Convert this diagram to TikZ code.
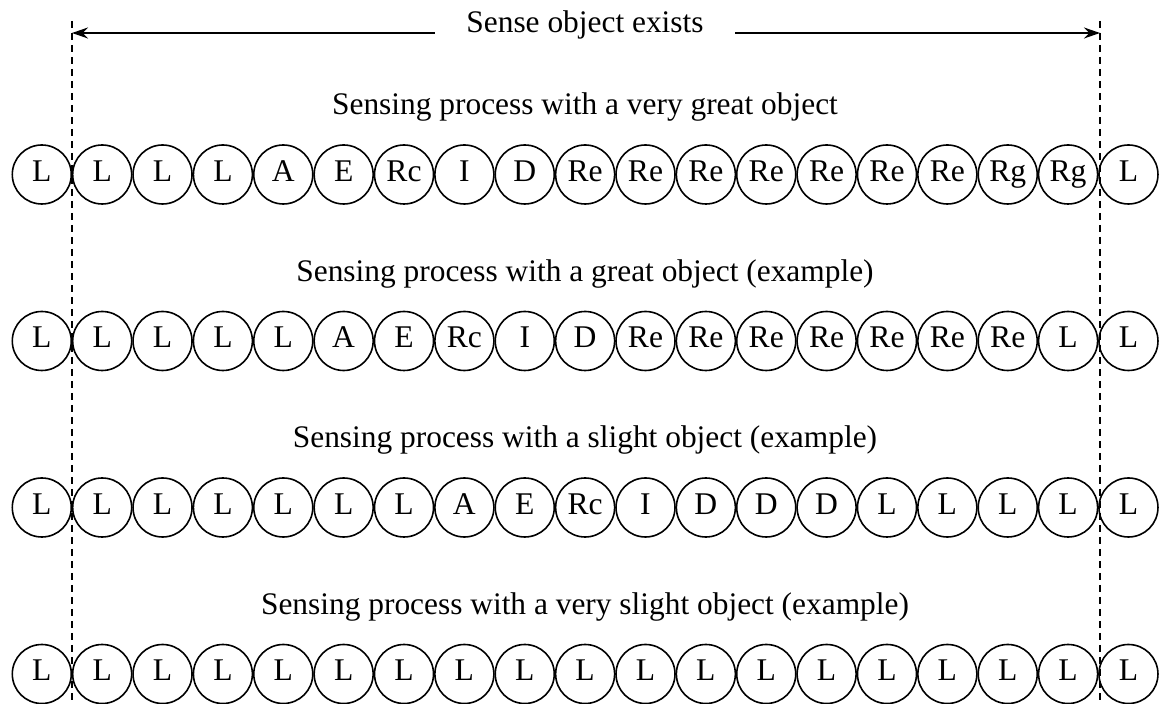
\documentclass[tikz,border=0pt]{standalone}
\usepackage{fontspec}
\setmainfont{Liberation Serif}
\usepackage{tikz}
\usetikzlibrary{arrows.meta, calc}

\begin{document}
\begin{tikzpicture}[>={Stealth[length=8pt,width=5.5pt]}, x=0.5pt, y=-0.5pt,
    phase/.style={circle, draw, line width=0.8pt, minimum size=29.5pt, inner sep=0pt,
      text height=0.66em, text depth=0pt, font=\fontsize{15.8}{18}\selectfont},
    lbl/.style={font=\fontsize{15.7}{18}\selectfont, inner sep=0pt}]

      \useasboundingbox (0, 0) rectangle (1161, 704);

      % boundaries of the sensed object
      \coordinate (ltop) at (72, 21);
      \coordinate (lbot) at (72, 704);
      \coordinate (rtop) at (1100, 21);
      \coordinate (rbot) at (1100, 704);

      \draw[line width=0.7pt, dash pattern=on 3.5pt off 2.5pt] (ltop) -- (lbot);
      \draw[line width=0.7pt, dash pattern=on 3.5pt off 2.5pt] (rtop) -- (rbot);

      \node[lbl, anchor=base, inner xsep=15.6pt] (exists) at (585, 33) {Sense object exists};
      \draw[->, line width=0.8pt] (exists.base west) -- (exists.base west -| ltop);
      \draw[->, line width=0.8pt] (exists.base east) -- (exists.base east -| rtop);

      % the four sensing processes
      \foreach \row/\ttl/\seq in {
          1/{Sensing process with a very great object}/{L,L,L,L,A,E,Rc,I,D,Re,Re,Re,Re,Re,Re,Re,Rg,Rg,L},
          2/{Sensing process with a great object (example)}/{L,L,L,L,L,A,E,Rc,I,D,Re,Re,Re,Re,Re,Re,Re,L,L},
          3/{Sensing process with a slight object (example)}/{L,L,L,L,L,L,L,A,E,Rc,I,D,D,D,L,L,L,L,L},
          4/{Sensing process with a very slight object (example)}/{L,L,L,L,L,L,L,L,L,L,L,L,L,L,L,L,L,L,L}} {
        \pgfmathsetmacro\cy{174.5 + (\row - 1) * 166.5}
        \node[lbl, anchor=base] (title\row) at (585, \cy - 59.5) {\ttl};
        \foreach \s [count=\i] in \seq {
          \node[phase] (r\row-\i) at ({41.8 + (\i - 1) * 60.37}, \cy) {\s};
        }
      }
    \end{tikzpicture}
\end{document}
